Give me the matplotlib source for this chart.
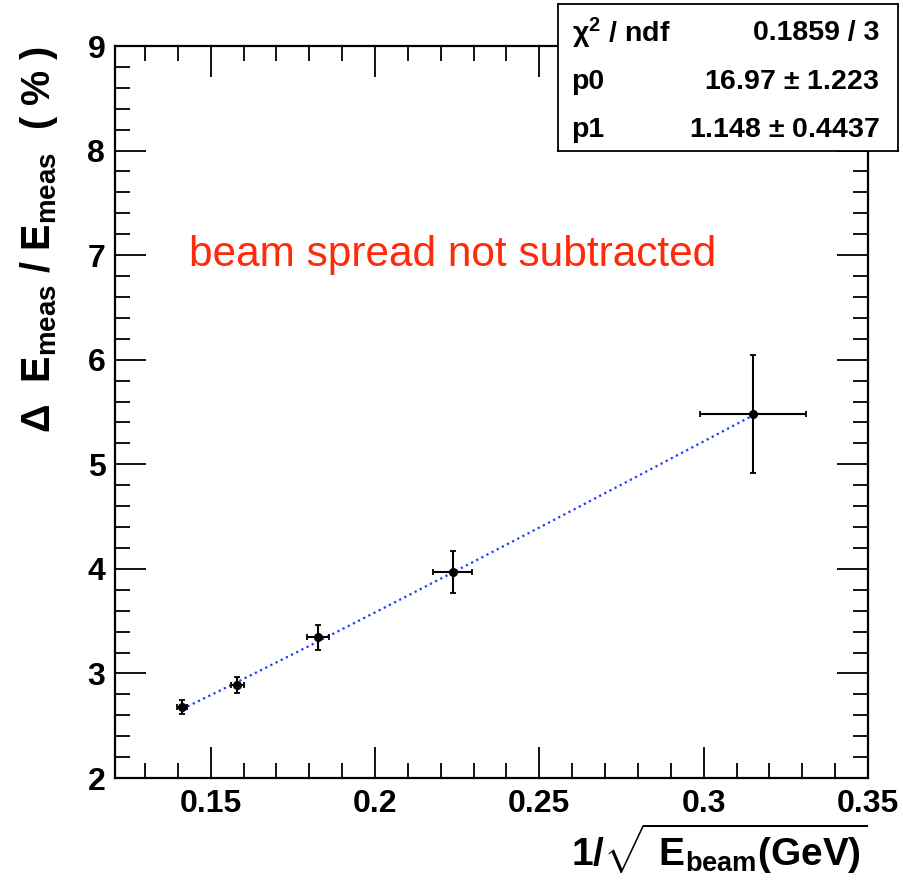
import numpy as np
import matplotlib
matplotlib.use('Agg')
import matplotlib.pyplot as plt
from matplotlib.ticker import MultipleLocator

# ROOT-like bold Helvetica look
plt.rcParams['font.family'] = ['Liberation Sans', 'DejaVu Sans']
plt.rcParams['font.weight'] = 'bold'
plt.rcParams['axes.labelweight'] = 'bold'
plt.rcParams['mathtext.fontset'] = 'custom'
plt.rcParams['mathtext.rm'] = 'Liberation Sans:bold'
plt.rcParams['mathtext.bf'] = 'Liberation Sans:bold'
plt.rcParams['mathtext.it'] = 'Liberation Sans:bold'
plt.rcParams['mathtext.sf'] = 'Liberation Sans'
plt.rcParams['mathtext.default'] = 'bf'

# data
x_vals = [0.1414, 0.1581, 0.1826, 0.2236, 0.3150]
x_errs = [0.0015, 0.0020, 0.0033, 0.0060, 0.0162]
y_vals = [2.68, 2.89, 3.345, 3.97, 5.48]
y_errs = [0.065, 0.08, 0.12, 0.205, 0.565]

# fit results (stat box)
p0, p0_err = 16.97, 1.223
p1, p1_err = 1.148, 0.4437
chi2, ndf = 0.1859, 3

fig = plt.figure(figsize=(9.04, 8.83), dpi=100)
ax = fig.add_axes([0.1272, 0.1189, 0.8330, 0.8290])

# fit curve: resolution = p0*x (+) p1
xf = np.linspace(x_vals[0], x_vals[-1], 200)
yf = np.sqrt((p0 * xf) ** 2 + p1 ** 2)
ax.plot(xf, yf, color='#1a3cff', ls=(0, (1, 1.6)), lw=1.6, zorder=2)

ax.errorbar(x_vals, y_vals, xerr=x_errs, yerr=y_errs, fmt='o', color='black',
            ms=5.5, elinewidth=1.5, capsize=2.5, capthick=1.3, zorder=3)

ax.set_xlim(0.1209, 0.35)
ax.set_ylim(2, 9)
ax.xaxis.set_major_locator(MultipleLocator(0.05))
ax.xaxis.set_minor_locator(MultipleLocator(0.01))
ax.yaxis.set_major_locator(MultipleLocator(1))
ax.yaxis.set_minor_locator(MultipleLocator(0.2))
ax.set_xticks([0.15, 0.2, 0.25, 0.3, 0.35])
ax.set_xticklabels(['0.15', '0.2', '0.25', '0.3', '0.35'])
ax.tick_params(which='both', direction='in', top=True, right=True,
               labelsize=23, width=1.3)
ax.tick_params(axis='x', pad=8)
ax.tick_params(axis='y', pad=7)
ax.tick_params(which='major', length=22)
ax.tick_params(which='minor', length=11)
for s in ax.spines.values():
    s.set_linewidth(1.6)

ax.set_xlabel(r'$1/\sqrt{\ E_{beam}(GeV)}$', fontsize=28, loc='right',
              labelpad=2)
ax.set_ylabel(r'$\mathsf{\Delta}$  E$_{meas}$ / E$_{meas}$  ( % )',
              fontsize=28.5, loc='top', labelpad=20)

ax.text(0.1435, 7.0, 'beam spread not subtracted', color='#ff2a0a',
        fontsize=30.5, fontweight='normal', va='center', ha='left')

# stat box
bx = fig.add_axes([558 / 904, 1 - 151 / 883, 340 / 904, 147 / 883])
bx.set_xticks([])
bx.set_yticks([])
for s in bx.spines.values():
    s.set_linewidth(1.3)
rows = [(r'$\mathsf{\chi}^2$ / ndf', f'{chi2} / {ndf}'),
        ('p0', f'{p0} $\\pm$ {p0_err}'),
        ('p1', f'{p1} $\\pm$ {p1_err}')]
for i, (k, v) in enumerate(rows):
    yy = 0.80 - i * 0.33
    bx.text(0.04, yy, k, fontsize=20.5, ha='left', va='center',
            transform=bx.transAxes)
    bx.text(0.945, yy, v, fontsize=20.5, ha='right', va='center',
            transform=bx.transAxes)

fig.savefig('out.png', dpi=100)
